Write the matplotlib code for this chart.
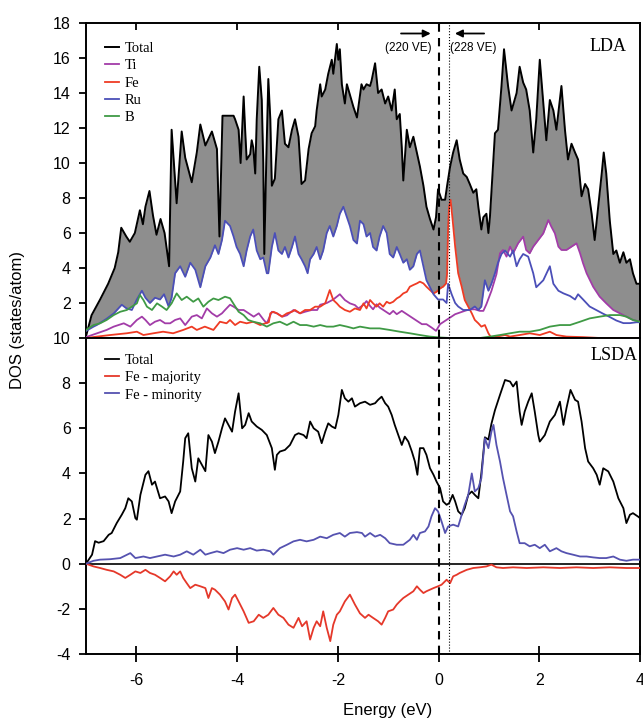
import numpy as np
import matplotlib
matplotlib.use('Agg')
from matplotlib import pyplot as plt

plt.rcParams['font.family'] = ['Liberation Sans', 'DejaVu Sans']
plt.rcParams['axes.unicode_minus'] = False

# ---- LDA (top panel): energy (eV) / DOS (states/atom) ----
e_tot = [-7.00, -6.89, -6.72, -6.56, -6.43, -6.36, -6.30, -6.20, -6.13, -6.03,
         -5.93, -5.87, -5.82, -5.74, -5.67, -5.60, -5.52, -5.44, -5.35, -5.30,
         -5.20, -5.10, -5.03, -4.90, -4.80, -4.73, -4.63, -4.50, -4.40, -4.35,
         -4.29, -4.07, -4.04, -3.97, -3.93, -3.87, -3.84, -3.81, -3.74, -3.71,
         -3.68, -3.64, -3.61, -3.56, -3.51, -3.48, -3.46, -3.42, -3.38, -3.34,
         -3.31, -3.25, -3.18, -3.11, -3.05, -2.98, -2.91, -2.85, -2.78, -2.72,
         -2.65, -2.58, -2.52, -2.45, -2.42, -2.35, -2.32, -2.25, -2.19, -2.12,
         -2.09, -2.02, -1.99, -1.96, -1.92, -1.86, -1.82, -1.76, -1.69, -1.62,
         -1.53, -1.49, -1.43, -1.36, -1.33, -1.26, -1.20, -1.13, -1.06, -1.00,
         -0.93, -0.87, -0.83, -0.77, -0.73, -0.70, -0.63, -0.57, -0.50, -0.43,
         -0.37, -0.30, -0.24, -0.17, -0.10, -0.05, -0.01, 0.06, 0.13, 0.17,
         0.23, 0.29, 0.36, 0.42, 0.49, 0.56, 0.62, 0.69, 0.75, 0.79,
         0.85, 0.89, 0.95, 0.99, 1.02, 1.09, 1.12, 1.18, 1.25, 1.30,
         1.38, 1.45, 1.55, 1.61, 1.68, 1.74, 1.81, 1.88, 1.94, 2.01,
         2.08, 2.14, 2.21, 2.28, 2.34, 2.44, 2.51, 2.57, 2.64, 2.71,
         2.77, 2.84, 2.91, 2.97, 3.04, 3.10, 3.17, 3.24, 3.28, 3.33,
         3.40, 3.47, 3.53, 3.60, 3.67, 3.73, 3.80, 3.86, 3.93, 4.00]
tot = [0.1, 1.3, 2.2, 3.1, 4.0, 4.9, 6.3, 5.8, 5.5, 6.0,
       7.3, 6.5, 7.5, 8.4, 7.0, 5.9, 6.8, 6.0, 4.1, 11.9,
       7.7, 11.8, 10.3, 8.9, 10.6, 12.2, 11.0, 11.8, 10.8, 5.8,
       12.7, 12.7, 12.5, 11.9, 10.0, 13.8, 11.9, 10.2, 10.5, 11.3,
       10.9, 9.4, 12.5, 15.5, 13.6, 10.0, 4.8, 10.2, 14.8, 12.5,
       8.7, 9.1, 12.5, 13.0, 11.1, 10.9, 11.9, 12.5, 11.5, 8.8,
       9.0, 10.8, 11.7, 12.1, 13.0, 14.5, 13.8, 14.2, 15.1, 15.9,
       15.1, 16.8, 15.9, 16.5, 14.5, 13.4, 14.5, 13.9, 13.2, 12.6,
       14.5, 14.2, 14.5, 14.4, 14.7, 15.7, 14.0, 14.2, 13.4, 13.8,
       13.0, 14.2, 12.5, 12.8, 10.9, 9.0, 11.9, 10.9, 11.5, 10.6,
       9.8, 8.7, 7.5, 6.8, 6.2, 6.9, 8.5, 7.9, 7.9, 8.7,
       9.8, 10.6, 11.3, 10.2, 9.4, 9.2, 8.8, 8.3, 8.5, 7.5,
       6.2, 6.9, 7.1, 6.0, 6.9, 10.2, 11.7, 11.9, 14.4, 16.5,
       14.4, 13.0, 14.0, 15.5, 14.6, 14.2, 13.0, 10.6, 12.5, 15.9,
       13.4, 11.3, 13.6, 13.0, 11.9, 14.4, 11.9, 10.2, 11.1, 10.6,
       10.2, 8.1, 8.8, 8.5, 7.1, 5.6, 7.5, 9.4, 10.6, 9.4,
       6.7, 4.8, 5.0, 4.3, 4.9, 4.3, 4.5, 3.7, 3.1, 3.1]

e_ru = [-7.00, -6.85, -6.78, -6.59, -6.45, -6.29, -6.20, -6.09, -5.99, -5.89,
        -5.82, -5.73, -5.63, -5.53, -5.45, -5.36, -5.30, -5.23, -5.13, -5.03,
        -4.93, -4.83, -4.73, -4.63, -4.53, -4.44, -4.37, -4.30, -4.24, -4.14,
        -4.07, -4.01, -3.94, -3.87, -3.81, -3.74, -3.68, -3.61, -3.54, -3.48,
        -3.41, -3.38, -3.31, -3.25, -3.18, -3.11, -3.05, -2.98, -2.91, -2.85,
        -2.78, -2.72, -2.65, -2.60, -2.55, -2.48, -2.42, -2.35, -2.29, -2.22,
        -2.16, -2.09, -2.02, -1.96, -1.89, -1.82, -1.76, -1.69, -1.62, -1.56,
        -1.49, -1.43, -1.36, -1.30, -1.23, -1.17, -1.10, -1.03, -0.97, -0.90,
        -0.83, -0.77, -0.70, -0.63, -0.57, -0.50, -0.43, -0.37, -0.30, -0.24,
        -0.17, -0.10, -0.01, 0.09, 0.16, 0.19, 0.26, 0.33, 0.39, 0.49,
        0.62, 0.72, 0.79, 0.85, 0.92, 0.99, 1.05, 1.12, 1.18, 1.25,
        1.32, 1.42, 1.48, 1.55, 1.61, 1.68, 1.78, 1.88, 1.94, 2.08,
        2.21, 2.28, 2.38, 2.48, 2.61, 2.71, 2.77, 2.87, 3.00, 3.13,
        3.26, 3.40, 3.53, 3.67, 3.80, 3.93, 4.00]
ru = [0.4, 0.65, 0.75, 1.1, 1.4, 1.9, 1.7, 1.6, 2.2, 2.7,
      2.3, 2.0, 2.3, 2.2, 2.5, 1.8, 2.3, 3.7, 4.1, 3.5,
      4.3, 3.9, 2.9, 4.1, 4.6, 5.3, 4.8, 5.6, 6.7, 6.4,
      5.8, 5.2, 4.8, 4.1, 5.0, 5.8, 6.2, 5.0, 4.5, 4.6,
      3.7, 3.7, 5.2, 6.0, 5.0, 4.8, 5.2, 4.6, 5.2, 5.8,
      4.8, 4.5, 4.1, 3.7, 4.5, 4.8, 5.2, 4.5, 5.0, 6.0,
      6.4, 5.8, 6.4, 7.1, 7.5, 6.9, 6.4, 5.6, 5.4, 6.7,
      6.5, 5.8, 6.0, 5.2, 5.0, 5.8, 6.4, 6.0, 4.8, 4.6,
      5.2, 4.8, 4.3, 4.5, 3.9, 4.1, 4.8, 5.0, 4.1, 3.3,
      2.9, 2.5, 2.2, 2.2, 2.0, 3.1, 2.5, 2.0, 1.8, 1.6,
      1.6, 1.8, 1.6, 1.8, 3.3, 2.7, 3.1, 3.7, 4.3, 4.8,
      5.0, 4.65, 5.0, 4.1, 4.5, 4.8, 4.65, 3.7, 2.9, 3.3,
      4.1, 3.1, 2.7, 2.55, 2.4, 2.2, 2.5, 2.2, 1.8, 1.6,
      1.4, 1.2, 1.0, 0.85, 0.85, 0.9, 0.9]

e_ti = [-7.00, -6.78, -6.59, -6.45, -6.25, -6.12, -5.99, -5.89, -5.82, -5.73,
        -5.63, -5.53, -5.43, -5.33, -5.23, -5.13, -5.03, -4.90, -4.80, -4.70,
        -4.60, -4.50, -4.40, -4.30, -4.24, -4.14, -4.07, -3.97, -3.87, -3.77,
        -3.67, -3.57, -3.47, -3.41, -3.31, -3.21, -3.10, -3.01, -2.88, -2.75,
        -2.65, -2.52, -2.41, -2.35, -2.22, -2.09, -1.96, -1.86, -1.76, -1.66,
        -1.59, -1.49, -1.43, -1.36, -1.30, -1.23, -1.17, -1.07, -0.97, -0.90,
        -0.83, -0.73, -0.63, -0.53, -0.43, -0.33, -0.24, -0.14, -0.05, 0.03,
        0.13, 0.23, 0.33, 0.42, 0.52, 0.62, 0.72, 0.82, 0.89, 0.95,
        1.05, 1.15, 1.22, 1.28, 1.35, 1.42, 1.48, 1.58, 1.68, 1.74,
        1.81, 1.88, 1.98, 2.08, 2.18, 2.24, 2.31, 2.38, 2.44, 2.54,
        2.64, 2.74, 2.81, 2.87, 2.94, 3.07, 3.20, 3.33, 3.47, 3.60,
        3.73, 3.86, 4.00]
ti = [0.05, 0.27, 0.46, 0.65, 0.84, 0.65, 1.03, 1.22, 1.03, 0.74,
      0.93, 1.03, 0.84, 0.84, 1.03, 1.12, 0.74, 1.22, 1.31, 1.12,
      1.69, 1.41, 1.22, 1.41, 1.6, 1.9, 1.79, 1.6, 1.6, 1.41,
      1.22, 1.41, 1.03, 0.84, 1.5, 1.41, 1.22, 1.3, 1.6, 1.41,
      1.5, 1.6, 1.6, 1.9, 2.0, 2.2, 2.5, 2.17, 1.98, 1.88,
      1.69, 1.9, 2.11, 1.83, 1.64, 1.93, 1.74, 1.55, 1.36, 1.55,
      1.36, 1.55, 1.36, 1.17, 0.98, 0.79, 0.79, 0.6, 0.41, 0.79,
      0.98, 1.17, 1.36, 1.45, 1.55, 1.64, 1.64, 1.55, 1.55, 1.93,
      2.69, 3.65, 4.84, 5.03, 4.65, 5.22, 4.84, 5.41, 5.79, 5.03,
      4.84, 5.22, 5.6, 5.98, 6.74, 6.36, 5.98, 5.22, 5.03, 5.03,
      5.22, 5.41, 4.84, 4.27, 3.7, 2.93, 2.36, 1.98, 1.6, 1.41,
      1.22, 1.03, 0.93]

e_fe = [-7.00, -6.78, -6.52, -6.19, -5.99, -5.86, -5.66, -5.47, -5.27, -5.07,
        -4.90, -4.80, -4.64, -4.47, -4.34, -4.21, -4.14, -4.04, -3.94, -3.81,
        -3.68, -3.54, -3.44, -3.37, -3.34, -3.28, -3.21, -3.11, -3.01, -2.91,
        -2.85, -2.75, -2.65, -2.55, -2.45, -2.35, -2.25, -2.16, -2.09, -2.02,
        -1.96, -1.86, -1.76, -1.66, -1.56, -1.49, -1.43, -1.36, -1.30, -1.23,
        -1.17, -1.10, -1.03, -0.97, -0.90, -0.83, -0.77, -0.70, -0.63, -0.57,
        -0.50, -0.43, -0.37, -0.30, -0.24, -0.17, -0.10, -0.04, 0.03, 0.09,
        0.15, 0.17, 0.19, 0.21, 0.24, 0.28, 0.33, 0.39, 0.46, 0.52,
        0.59, 0.66, 0.72, 0.79, 0.85, 0.92, 0.99, 1.05, 1.15, 1.32,
        1.42, 1.61, 1.81, 2.01, 2.21, 2.34, 2.54, 2.87, 3.20, 4.00]
fe = [0.0, 0.08, 0.17, 0.27, 0.36, 0.17, 0.27, 0.36, 0.27, 0.46,
      0.65, 0.46, 0.65, 0.46, 0.93, 0.84, 1.03, 0.74, 0.93, 0.84,
      0.93, 0.74, 0.84, 0.9, 1.41, 1.5, 1.41, 1.22, 1.41, 1.5,
      1.6, 1.41, 1.6, 1.6, 1.79, 1.79, 1.98, 2.74, 2.17, 1.98,
      1.79, 1.6, 1.5, 1.69, 1.6, 1.98, 1.69, 2.17, 1.98, 1.79,
      1.98, 1.79, 2.07, 1.98, 2.07, 2.26, 2.36, 2.55, 2.64, 2.93,
      3.03, 3.12, 3.22, 3.12, 2.93, 2.74, 2.55, 2.64, 2.83, 2.93,
      3.12, 3.7, 6.36, 7.5, 7.89, 6.74, 5.22, 3.7, 2.93, 2.17,
      1.79, 1.41, 1.03, 0.84, 0.65, 0.74, 0.27, 0.0, 0.08, 0.17,
      0.08, 0.17, 0.27, 0.17, 0.36, 0.17, 0.08, 0.05, 0.0, 0.0]

e_b = [-7.00, -6.85, -6.72, -6.59, -6.45, -6.32, -6.19, -6.09, -5.99, -5.93,
       -5.86, -5.79, -5.69, -5.59, -5.49, -5.40, -5.30, -5.20, -5.10, -5.00,
       -4.87, -4.77, -4.67, -4.57, -4.47, -4.37, -4.24, -4.14, -4.07, -3.97,
       -3.87, -3.78, -3.68, -3.54, -3.41, -3.28, -3.15, -3.01, -2.88, -2.75,
       -2.62, -2.48, -2.35, -2.22, -2.09, -1.96, -1.82, -1.69, -1.56, -1.36,
       -1.17, -0.97, -0.77, -0.57, -0.37, -0.17, 0.03, 0.23, 0.42, 0.62,
       0.82, 1.02, 1.22, 1.42, 1.61, 1.81, 2.01, 2.21, 2.41, 2.61,
       2.81, 3.00, 3.20, 3.40, 3.60, 3.73, 3.86, 4.00]
b = [0.46, 0.74, 0.84, 1.03, 1.31, 1.5, 1.6, 1.79, 1.98, 2.46,
     2.17, 1.79, 1.6, 1.98, 1.79, 1.6, 1.98, 2.55, 2.17, 2.36,
     2.07, 2.26, 1.79, 2.07, 2.26, 2.17, 2.36, 2.27, 1.95, 1.5,
     1.31, 1.03, 0.93, 0.84, 0.65, 0.84, 0.93, 0.74, 0.93, 0.74,
     0.74, 0.65, 0.74, 0.65, 0.65, 0.74, 0.65, 0.55, 0.65, 0.55,
     0.55, 0.46, 0.36, 0.27, 0.17, 0.08, 0.03, 0.0, 0.0, 0.0,
     0.0, 0.08, 0.17, 0.27, 0.36, 0.36, 0.46, 0.65, 0.74, 0.74,
     0.93, 1.12, 1.22, 1.31, 1.31, 1.22, 1.03, 0.93]

# ---- LSDA (bottom panel) ----
e_tot2 = [-7.00, -6.88, -6.82, -6.75, -6.65, -6.55, -6.49, -6.39, -6.29, -6.22,
          -6.16, -6.09, -6.02, -5.99, -5.92, -5.82, -5.76, -5.69, -5.63, -5.53,
          -5.43, -5.36, -5.30, -5.23, -5.13, -5.07, -5.03, -4.97, -4.90, -4.83,
          -4.77, -4.70, -4.63, -4.57, -4.50, -4.44, -4.37, -4.30, -4.24, -4.17,
          -4.10, -4.04, -3.97, -3.90, -3.84, -3.77, -3.71, -3.61, -3.51, -3.41,
          -3.31, -3.25, -3.21, -3.15, -3.05, -2.95, -2.85, -2.78, -2.68, -2.62,
          -2.55, -2.48, -2.39, -2.32, -2.25, -2.19, -2.12, -2.05, -1.99, -1.92,
          -1.86, -1.79, -1.72, -1.66, -1.56, -1.46, -1.36, -1.26, -1.20, -1.13,
          -1.06, -1.00, -0.93, -0.87, -0.80, -0.73, -0.67, -0.60, -0.53, -0.47,
          -0.42, -0.37, -0.30, -0.24, -0.17, -0.10, -0.04, 0.03, 0.09, 0.16,
          0.21, 0.28, 0.33, 0.39, 0.46, 0.52, 0.59, 0.66, 0.72, 0.79,
          0.85, 0.92, 0.99, 1.05, 1.12, 1.22, 1.32, 1.42, 1.48, 1.55,
          1.61, 1.65, 1.71, 1.78, 1.85, 1.91, 1.98, 2.01, 2.11, 2.21,
          2.31, 2.41, 2.48, 2.54, 2.62, 2.71, 2.77, 2.84, 2.91, 2.97,
          3.07, 3.14, 3.20, 3.27, 3.37, 3.47, 3.57, 3.67, 3.73, 3.80,
          3.86, 3.96, 4.00]
tot2 = [0.0, 0.4, 1.0, 0.93, 1.0, 1.28, 1.36, 1.8, 2.17, 2.46,
        2.9, 2.76, 2.02, 1.95, 3.05, 3.94, 4.1, 3.5, 3.64, 2.9,
        2.98, 2.76, 2.24, 2.76, 3.2, 4.53, 5.56, 5.78, 4.23, 3.64,
        4.67, 4.38, 4.1, 5.7, 5.41, 4.9, 5.41, 6.0, 6.44, 6.15,
        5.85, 6.74, 7.55, 6.0, 6.15, 6.67, 6.3, 6.08, 5.93, 5.7,
        5.12, 4.16, 4.82, 4.97, 5.04, 5.26, 5.7, 5.78, 5.7, 5.56,
        6.3, 6.0, 5.85, 5.34, 5.85, 6.22, 6.08, 6.0, 6.59, 7.7,
        7.33, 7.18, 7.33, 6.96, 7.11, 7.18, 7.04, 7.11, 7.26, 7.4,
        7.11, 6.96, 6.59, 6.15, 5.7, 5.26, 5.63, 5.41, 4.97, 4.53,
        3.94, 5.12, 5.12, 4.82, 4.23, 3.94, 3.64, 3.35, 2.76, 2.61,
        2.68, 3.05, 2.76, 2.32, 2.17, 2.46, 3.05, 3.2, 3.05, 2.9,
        4.0, 5.6, 5.5, 6.2, 6.8, 7.48, 8.14, 8.07, 7.85, 8.07,
        6.74, 6.15, 6.74, 7.18, 7.55, 6.74, 5.7, 5.41, 5.7, 6.3,
        6.59, 7.18, 6.15, 6.89, 7.7, 7.26, 7.18, 6.3, 5.12, 4.53,
        4.23, 3.94, 3.5, 4.23, 4.09, 3.64, 2.9, 2.46, 1.8, 2.17,
        2.24, 2.09, 2.02]

e_min = [-7.00, -6.85, -6.72, -6.52, -6.32, -6.12, -6.02, -5.86, -5.73, -5.59,
         -5.43, -5.26, -5.13, -5.00, -4.87, -4.73, -4.63, -4.53, -4.40, -4.27,
         -4.14, -4.00, -3.87, -3.74, -3.61, -3.48, -3.34, -3.28, -3.15, -3.01,
         -2.88, -2.75, -2.62, -2.48, -2.35, -2.22, -2.09, -1.96, -1.86, -1.76,
         -1.62, -1.52, -1.46, -1.36, -1.26, -1.16, -1.06, -0.97, -0.83, -0.70,
         -0.57, -0.50, -0.43, -0.37, -0.27, -0.20, -0.14, -0.07, -0.01, 0.06,
         0.13, 0.19, 0.29, 0.39, 0.46, 0.52, 0.59, 0.66, 0.72, 0.79,
         0.85, 0.92, 0.99, 1.05, 1.09, 1.15, 1.22, 1.28, 1.35, 1.42,
         1.48, 1.55, 1.61, 1.71, 1.81, 1.91, 2.01, 2.11, 2.21, 2.34,
         2.44, 2.54, 2.67, 2.81, 2.94, 3.07, 3.20, 3.33, 3.47, 3.60,
         3.73, 3.86, 4.00]
fe_min = [0.0, 0.13, 0.18, 0.2, 0.25, 0.47, 0.25, 0.32, 0.25, 0.32,
          0.4, 0.32, 0.4, 0.55, 0.4, 0.62, 0.4, 0.47, 0.55, 0.47,
          0.62, 0.69, 0.62, 0.69, 0.58, 0.62, 0.55, 0.4, 0.69, 0.84,
          0.99, 1.06, 0.99, 1.06, 1.2, 1.13, 1.28, 1.36, 1.2, 1.36,
          1.4, 1.36, 1.2, 1.36, 1.2, 1.28, 1.13, 0.91, 0.84, 0.84,
          1.06, 1.28, 1.06, 1.36, 1.43, 1.65, 2.1, 2.46, 2.32, 1.87,
          1.36, 1.65, 1.73, 1.65, 2.17, 2.61, 3.05, 4.0, 3.2, 3.35,
          3.79, 5.56, 5.12, 5.85, 6.15, 5.26, 4.53, 3.79, 3.05, 2.32,
          2.1, 1.43, 0.91, 0.91, 0.77, 0.84, 0.69, 0.84, 0.55, 0.69,
          0.55, 0.47, 0.4, 0.32, 0.32, 0.28, 0.25, 0.25, 0.32, 0.18,
          0.13, 0.18, 0.18]

e_maj = [-7.00, -6.85, -6.72, -6.59, -6.45, -6.32, -6.22, -6.12, -6.02, -5.92,
         -5.82, -5.73, -5.63, -5.53, -5.43, -5.33, -5.26, -5.20, -5.13, -5.07,
         -5.00, -4.93, -4.83, -4.73, -4.63, -4.57, -4.50, -4.44, -4.34, -4.24,
         -4.17, -4.10, -4.04, -3.97, -3.87, -3.77, -3.67, -3.57, -3.48, -3.38,
         -3.28, -3.18, -3.08, -2.98, -2.88, -2.78, -2.71, -2.62, -2.55, -2.48,
         -2.42, -2.35, -2.29, -2.22, -2.15, -2.09, -2.02, -1.96, -1.86, -1.76,
         -1.66, -1.56, -1.46, -1.39, -1.30, -1.20, -1.13, -1.06, -1.00, -0.90,
         -0.83, -0.77, -0.70, -0.60, -0.50, -0.43, -0.37, -0.30, -0.24, -0.17,
         -0.10, -0.01, 0.06, 0.16, 0.23, 0.29, 0.36, 0.42, 0.49, 0.56,
         0.69, 0.82, 0.95, 1.05, 1.15, 1.28, 1.48, 1.75, 2.08, 2.41,
         2.74, 3.07, 3.40, 3.73, 4.00]
fe_maj = [0.0, -0.12, -0.19, -0.27, -0.34, -0.49, -0.63, -0.49, -0.34, -0.41,
          -0.27, -0.41, -0.49, -0.63, -0.78, -0.56, -0.34, -0.49, -0.34, -0.63,
          -0.86, -1.08, -0.93, -1.0, -1.08, -1.52, -1.08, -1.15, -1.37, -1.67,
          -2.03, -1.52, -1.37, -1.67, -2.11, -2.62, -2.55, -2.26, -2.4, -2.26,
          -1.96, -2.26, -2.4, -2.7, -2.84, -2.4, -2.77, -2.55, -3.36, -2.84,
          -2.55, -2.77, -2.11, -2.84, -3.43, -2.7, -2.26, -2.11, -1.67, -1.37,
          -1.81, -2.2, -2.4, -2.26, -2.4, -2.55, -2.7, -2.4, -2.11, -2.03,
          -1.81, -1.67, -1.52, -1.37, -1.22, -1.0, -1.15, -1.3, -1.22, -1.15,
          -1.08, -1.0, -0.93, -0.71, -0.86, -0.56, -0.49, -0.41, -0.34, -0.27,
          -0.19, -0.16, -0.12, -0.04, -0.16, -0.19, -0.16, -0.19, -0.16, -0.19,
          -0.16, -0.19, -0.16, -0.19, -0.19]

c_ti = '#a23ca8'
c_fe = '#ef3b24'
c_ru = '#4b4fb8'
c_b = '#3f9a45'

W, H = 643, 721
fig = plt.figure(figsize=(W / 100, H / 100), dpi=100)
ax1 = fig.add_axes([86 / W, 1 - 338 / H, 554 / W, 315 / H])
ax2 = fig.add_axes([86 / W, 1 - 654 / H, 554 / W, 316 / H])

# top: grey total, partials blanked out in white
ax1.fill_between(e_tot, tot, color='#8e8e8e', lw=0, zorder=1)
for ee, yy in [(e_ru, ru), (e_ti, ti), (e_fe, fe), (e_b, b)]:
    ax1.fill_between(ee, yy, color='white', lw=0, zorder=2)
l_tot, = ax1.plot(e_tot, tot, color='black', lw=1.4, zorder=4)
l_ti, = ax1.plot(e_ti, ti, color=c_ti, lw=1.3, zorder=4)
l_fe, = ax1.plot(e_fe, fe, color=c_fe, lw=1.3, zorder=4)
l_ru, = ax1.plot(e_ru, ru, color=c_ru, lw=1.3, zorder=4)
l_b, = ax1.plot(e_b, b, color=c_b, lw=1.3, zorder=4)

serif = {'family': 'Liberation Serif', 'size': 10.5}
ax1.legend([l_tot, l_ti, l_fe, l_ru, l_b], ['Total', 'Ti', 'Fe', 'Ru', 'B'],
           loc='upper left', bbox_to_anchor=(0.034, 0.94), frameon=False, prop=serif,
           handlelength=1.0, handletextpad=0.35, labelspacing=0.28,
           borderaxespad=0, borderpad=0)

ax1.text(0.975, 0.925, 'LDA', transform=ax1.transAxes, ha='right', va='center',
         family='Liberation Serif', fontsize=13)
ax1.annotate('', xy=(-0.1, 17.4), xytext=(-0.8, 17.4),
             arrowprops=dict(arrowstyle='-|>', color='black', lw=1.3, mutation_scale=11))
ax1.annotate('', xy=(0.27, 17.4), xytext=(0.96, 17.4),
             arrowprops=dict(arrowstyle='-|>', color='black', lw=1.3, mutation_scale=11))
ax1.text(-0.6, 16.6, '(220 VE)', ha='center', va='center', fontsize=8.5)
ax1.text(0.68, 16.6, '(228 VE)', ha='center', va='center', fontsize=8.5)

# bottom: LSDA
ax2.axhline(0, color='black', lw=1.2, zorder=3)
m_tot, = ax2.plot(e_tot2, tot2, color='black', lw=1.3, zorder=4)
m_maj, = ax2.plot(e_maj, fe_maj, color='#e5382a', lw=1.3, zorder=4)
m_min, = ax2.plot(e_min, fe_min, color='#5552b0', lw=1.3, zorder=4)
ax2.legend([m_tot, m_maj, m_min], ['Total', 'Fe - majority', 'Fe - minority'],
           loc='upper left', bbox_to_anchor=(0.034, 0.95), frameon=False, prop=serif,
           handlelength=1.0, handletextpad=0.35, labelspacing=0.28,
           borderaxespad=0, borderpad=0)
ax2.text(0.995, 0.945, 'LSDA', transform=ax2.transAxes, ha='right', va='center',
         family='Liberation Serif', fontsize=13)

for ax in (ax1, ax2):
    ax.axvline(0, color='black', lw=1.5, ls=(0, (4, 3)), zorder=5)
    ax.axvline(0.2, color='black', lw=0.8, ls=':', zorder=5)
    ax.set_xlim(-7, 4)
    ax.set_xticks([-6, -4, -2, 0, 2, 4])
    for s in ax.spines.values():
        s.set_linewidth(1.4)
    ax.tick_params(axis='y', direction='out', length=5, width=1.3, pad=6, labelsize=11.5)

ax1.set_ylim(0, 18)
ax1.set_yticks(range(2, 19, 2))
ax1.tick_params(axis='x', direction='in', top=True, bottom=True, labelbottom=False,
                length=5, width=1.3)
ax2.set_ylim(-4, 10)
ax2.set_yticks(range(-4, 11, 2))
ax2.tick_params(axis='x', direction='inout', length=12, width=1.3, pad=8, labelsize=11.5)

fig.text(18 / W, 1 - 320 / H, 'DOS (states/atom)', rotation=90, ha='center', va='center',
         fontsize=12)
fig.text(388 / W, 1 - 710 / H, 'Energy (eV)', ha='center', va='center', fontsize=12)

fig.savefig('out.png', dpi=100)
